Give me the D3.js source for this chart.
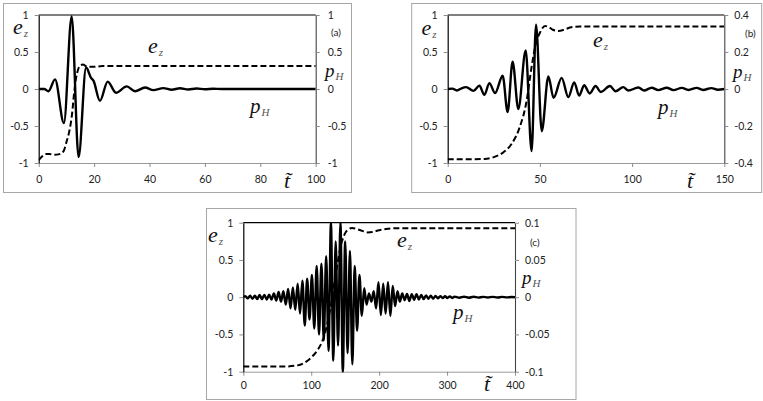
<!DOCTYPE html>
<html><head><meta charset="utf-8">
<script src="https://cdn.jsdelivr.net/npm/d3@7"></script>
<style>body{margin:0;background:#fff}</style>
</head><body>
<svg id="chart" width="763" height="401"></svg>
<script>
// ---------- DATA ----------
const leftTicks = [-1, -0.5, 0, 0.5, 1];
const xTicksA = [0, 20, 40, 60, 80, 100];
const xTicksB = [0, 50, 100, 150];
const xTicksC = [0, 100, 200, 300, 400];
const rightTicksA = [-1, -0.5, 0, 0.5, 1];
const rightTicksB = [-0.4, -0.2, 0, 0.2, 0.4];
const rightTicksC = [-0.1, -0.05, 0, 0.05, 0.1];
const panelTags = ["(a)", "(b)", "(c)"];

// panel (a): e_z (left axis) and p_H (right axis)
const ezA = [[0,-0.96],[1,-0.92],[2.5,-0.88],[4,-0.88],[5.5,-0.89],[7.5,-0.88],[9,-0.84],[10,-0.72],[11,-0.58],[12,-0.35],[12.8,-0.05],[13.5,0.15],[14.2,0.26],[15,0.32],[16,0.33],[17,0.31],[18.5,0.3],[20,0.3],[23,0.31],[30,0.31],[100,0.31]];
const phA = [[0,0],[2,0],[3.5,-0.03],[5.9,0.13],[9.1,-0.46],[11.9,0.98],[14.4,-0.92],[17.1,0.29],[18.9,0.15],[19.8,0.11],[22.1,-0.16],[24.9,0.1],[27.9,-0.05],[31.8,0.035],[34.8,-0.03],[38.4,0.02],[41.4,-0.015],[45,0.012],[48,-0.01],[51,0.01],[54,-0.007],[57,0.006],[60,-0.004],[63,0.003],[66,0],[100,0]];

// panel (b)
const ezB = [[0,-0.95],[10,-0.95],[20,-0.945],[25,-0.92],[30,-0.86],[34.7,-0.74],[39,-0.52],[42.8,-0.16],[45.5,0.3],[47.9,0.62],[50,0.76],[52.8,0.85],[54.6,0.84],[57,0.8],[60,0.785],[63,0.8],[66.3,0.83],[71.7,0.845],[80,0.845],[150,0.845]];
const phB = [[0,0],[2.5,0.002],[5,-0.008],[7.5,0.004],[10,0.01],[14,-0.01],[17.2,0.018],[19.9,-0.032],[22.6,0.032],[25.7,-0.022],[29.8,0.072],[32.5,-0.124],[35.2,0.148],[38.3,-0.108],[42.3,0.208],[45.5,-0.336],[47.9,0.348],[51,-0.228],[54.6,0.068],[57.4,-0.048],[61.8,0.06],[65.4,-0.044],[68.6,0.036],[71.3,-0.036],[74,0.02],[77,-0.024],[80.2,0.016],[83,-0.016],[88,0.016],[91,-0.012],[95.2,0.01],[98,-0.008],[103.4,0.008],[106.5,-0.008],[110.6,0.007],[114.2,-0.006],[118.8,0.007],[122.4,-0.006],[127,0.006],[130.5,-0.005],[135,0.006],[138.5,-0.005],[143,0.005],[146.5,-0.004],[150,0]];

// panel (c)
const ezC = [[0,-0.93],[60,-0.93],[80,-0.915],[90,-0.88],[100,-0.81],[110,-0.7],[118,-0.55],[125,-0.3],[130,-0.05],[135,0.25],[140,0.52],[145,0.74],[150,0.86],[155,0.91],[160,0.93],[167,0.915],[175,0.89],[183,0.87],[190,0.875],[200,0.9],[210,0.915],[225,0.925],[400,0.925]];
const phC = [[0,0],[3,0.0015],[6.5,-0.0015],[10,0.002],[13.5,-0.002],[17,0.002],[20.5,-0.0025],[24,0.003],[27.5,-0.0025],[31,0.003],[34.5,-0.003],[38,0.0035],[41.5,-0.003],[45,0.005],[48.5,-0.0045],[52,0.007],[55.5,-0.006],[59,0.008],[62.5,-0.01],[66,0.011],[69.5,-0.015],[73,0.013],[76.5,-0.017],[80,0.018],[83.5,-0.022],[87,0.022],[90.5,-0.038],[94,0.025],[97.5,-0.03],[101,0.03],[104.5,-0.042],[108,0.042],[111.5,-0.05],[115,0.045],[118.5,-0.058],[122,0.055],[125.5,-0.072],[129,0.1],[132.5,-0.085],[136,0.075],[139.5,-0.065],[143,0.1],[146.5,-0.1],[150,0.075],[153.5,-0.075],[157,0.062],[160.5,-0.09],[164,0.042],[167.5,-0.045],[171,0.03],[174.5,-0.025],[178,0.012],[181.5,-0.01],[185,0.005],[188.5,-0.006],[192,0.008],[195.5,-0.015],[199,0.02],[202.5,-0.024],[206,0.018],[209.5,-0.022],[213,0.02],[216.5,-0.025],[220,0.015],[223.5,-0.012],[227,0.008],[230.5,-0.006],[234,0.005],[237.5,-0.004],[241,0.0045],[244.5,-0.005],[248,0.004],[251.5,-0.0035],[255,0.004],[258.5,-0.003],[262,0.003],[265.5,-0.0025],[269,0.0025],[272.5,-0.002],[276,0.002],[279.5,-0.002],[283,0.0018],[286.5,-0.0015],[290,0.0015],[293.5,-0.0012],[297,0.0012],[300.5,-0.001],[304,0.001],[307.5,-0.001],[311,0.0008],[318,-0.0008],[325,0.0007],[332,-0.0007],[339,0.0006],[346,-0.0006],[353,0.0005],[360,-0.0005],[367,0.0005],[374,-0.0004],[381,0.0004],[388,-0.0003],[395,0.0003],[400,0]];

// ---------- LAYOUT ----------
const panels = [
  {frame:[3.5,3.5,348,189], plot:[38.7,15,315.7,163], xDom:[0,100], xTicks:xTicksA, rDom:[-1,1], rTicks:rightTicksA, ez:ezA, ph:phA, tag:panelTags[0],
   xLabDy:17, rPad:8, tagPos:[331,36], eL:[13,33.5], eI:[148,53], pR:[325,77], pI:[250,112.5], tt:[284,188]},
  {frame:[411.7,3.5,350,189], plot:[447.7,15,724.3,163], xDom:[0,150], xTicks:xTicksB, rDom:[-0.4,0.4], rTicks:rightTicksB, ez:ezB, ph:phB, tag:panelTags[1],
   xLabDy:17, rPad:6, tagPos:[745,37], eL:[421.5,35], eI:[593,47], pR:[733,78], pI:[658,114], tt:[687,188]},
  {frame:[206.5,208.5,369.5,191], plot:[243.3,222.7,515,371.7], xDom:[0,400], xTicks:xTicksC, rDom:[-0.1,0.1], rTicks:rightTicksC, ez:ezC, ph:phC, tag:panelTags[2],
   xLabDy:13.5, rPad:6, tagPos:[530,246], eL:[208,241.5], eI:[397,247], pR:[522,284], pI:[453,319], tt:[484,391]}
];

const svg = d3.select("#chart");
const tickFont = "Lato, 'Open Sans', sans-serif";
const serif = "'Liberation Serif', 'DejaVu Serif', serif";

panels.forEach((p, i) => {
  const [x0, y0, x1, y1] = p.plot;
  const g = svg.append("g");
  g.append("rect").attr("x", p.frame[0]).attr("y", p.frame[1]).attr("width", p.frame[2]).attr("height", p.frame[3])
    .attr("fill", "none").attr("stroke", "#a6a6a6").attr("stroke-width", 1);

  const x = d3.scaleLinear().domain(p.xDom).range([x0, x1]);
  const yL = d3.scaleLinear().domain([-1, 1]).range([y1, y0]);
  const yR = d3.scaleLinear().domain(p.rDom).range([y1, y0]);

  const ax = g.append("g").attr("transform", `translate(0,${y1})`)
    .call(d3.axisBottom(x).tickValues(p.xTicks).tickSize(4).tickSizeOuter(0).tickFormat(d => String(d)).tickPadding(p.xLabDy - 8));
  const al = g.append("g").attr("transform", `translate(${x0},0)`)
    .call(d3.axisLeft(yL).tickValues(leftTicks).tickSize(4).tickSizeOuter(0).tickFormat(d => String(d)).tickPadding(6));
  const ar = g.append("g").attr("transform", `translate(${x1},0)`)
    .call(d3.axisRight(yR).tickValues(p.rTicks).tickSize(4).tickSizeOuter(0).tickFormat(d => String(d)).tickPadding(p.rPad));
  [ax, al, ar].forEach(a => {
    a.selectAll("text").attr("font-family", tickFont).attr("font-size", 10.5).attr("fill", "#222");
    a.selectAll(".tick line").attr("stroke", "#8c8c8c");
  });
  ax.select(".domain").attr("stroke", "#9a9a9a");
  al.select(".domain").attr("stroke", "#000").attr("stroke-width", 1.2);
  ar.select(".domain").attr("stroke", "#444").attr("stroke-width", 1.1);
  g.append("line").attr("x1", x0).attr("x2", x1).attr("y1", y0).attr("y2", y0).attr("stroke", "#000").attr("stroke-width", 1.2);

  const cid = "clip" + i;
  g.append("clipPath").attr("id", cid).append("rect").attr("x", x0).attr("y", y0 - 1).attr("width", x1 - x0).attr("height", y1 - y0 + 2);

  const lineL = d3.line().x(d => x(d[0])).y(d => yL(d[1])).curve(d3.curveMonotoneX);
  const lineR = d3.line().x(d => x(d[0])).y(d => yR(d[1])).curve(d3.curveMonotoneX);

  g.append("path").attr("d", lineR(p.ph)).attr("fill", "none").attr("stroke", "#000")
    .attr("stroke-width", 2.4).attr("stroke-linejoin", "round").attr("clip-path", `url(#${cid})`);
  g.append("path").attr("d", lineL(p.ez)).attr("fill", "none").attr("stroke", "#000")
    .attr("stroke-width", 2).attr("stroke-dasharray", "6,3").attr("clip-path", `url(#${cid})`);

  function sym(pos, main, sub, size) {
    const t = g.append("text").attr("x", pos[0]).attr("y", pos[1]).attr("font-family", serif).attr("font-style", "italic");
    t.append("tspan").text(main).attr("font-size", size).attr("fill", "#111");
    t.append("tspan").text(sub).attr("font-size", 11).attr("dy", 3).attr("dx", 1).attr("fill", "#555");
  }
  sym(p.eL, "e", "z", 22);
  sym(p.eI, "e", "z", 22);
  sym(p.pR, "p", "H", 19);
  sym(p.pI, "p", "H", 21);
  g.append("text").attr("x", p.tagPos[0]).attr("y", p.tagPos[1]).text(p.tag)
    .attr("font-family", tickFont).attr("font-size", 10).attr("fill", "#222");
  g.append("text").attr("x", p.tt[0]).attr("y", p.tt[1]).text("t\u0303").attr("font-family", serif)
    .attr("font-style", "italic").attr("font-size", 22).attr("fill", "#111");
});
</script>
</body></html>
